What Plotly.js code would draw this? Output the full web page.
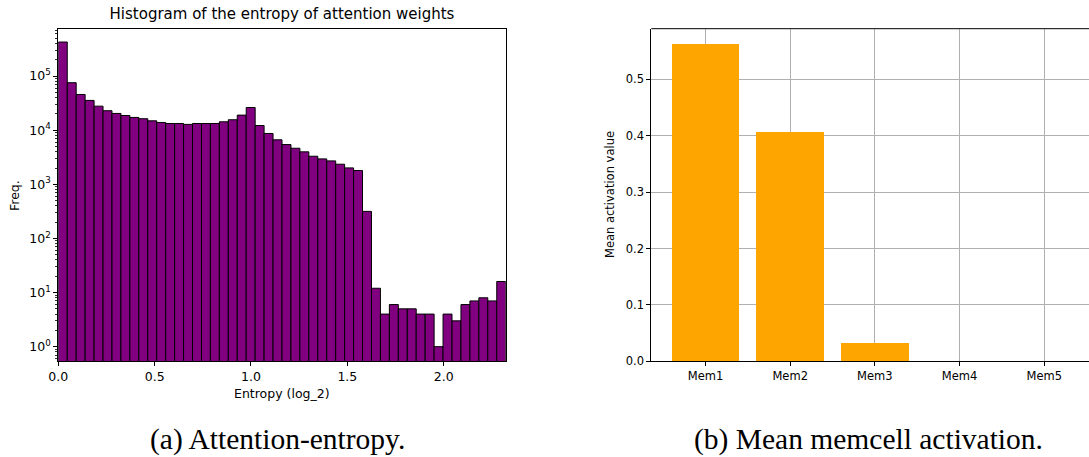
<!DOCTYPE html>
<html>
<head>
<meta charset="utf-8">
<script src="https://cdn.plot.ly/plotly-3.0.1.min.js"></script>
<style>
  html, body { margin: 0; padding: 0; background: #fff; overflow: hidden; }
  #chart { width: 1089px; height: 457px; }
</style>
</head>
<body>
<div id="chart"></div>
<script>
// ---- Data ----
const entropyMax = 2.3219;          // log2(5): upper edge of the histogram range
const entropyCounts = [
  426000, 75500, 45700, 35500, 27800, 22900, 20400, 18700, 17200, 16300,
  14900, 13900, 13300, 13300, 12800, 13300, 13300, 13300, 14300, 15600,
  19000, 26300, 12200, 8700, 6640, 5430, 4640, 3980, 3300, 2950,
  2710, 2350, 2010, 1800, 316, 12, 4, 6, 5, 5,
  4, 4, 1, 4, 3, 6, 7, 8, 7, 16
];
const entropyTicks = [0.0, 0.5, 1.0, 1.5, 2.0];
const freqTicks = [1, 10, 100, 1000, 10000, 100000];
const freqTickText = ['10<sup>0</sup>', '10<sup>1</sup>', '10<sup>2</sup>', '10<sup>3</sup>', '10<sup>4</sup>', '10<sup>5</sup>'];

const memCells = ['Mem1', 'Mem2', 'Mem3', 'Mem4', 'Mem5'];
const memActivation = [0.563, 0.407, 0.032, 0.0, 0.0];
const activationTicks = [0.0, 0.1, 0.2, 0.3, 0.4, 0.5];

// ---- Derived bin geometry ----
const nBins = entropyCounts.length;
const binWidth = entropyMax / nBins;
const binCenters = entropyCounts.map((_, i) => (i + 0.5) * binWidth);

// minor log ticks (2..9 per decade)
const minorVals = [];
for (let d = -1; d <= 5; d++) for (let k = 2; k <= 9; k++) minorVals.push(k * Math.pow(10, d));

const W = 1089, H = 457;
const px = v => v / W;
const py = v => 1 - v / H;

const FONT = 'DejaVu Sans, sans-serif';
const SERIF = 'Liberation Serif, Times New Roman, serif';

const traces = [
  {
    type: 'bar', x: binCenters, y: entropyCounts, width: binWidth,
    marker: { color: '#800080', line: { color: '#000000', width: 1 } },
    xaxis: 'x', yaxis: 'y', hoverinfo: 'x+y', showlegend: false
  },
  {
    type: 'bar', x: memCells, y: memActivation, width: 0.8,
    marker: { color: '#FFA500', line: { width: 0 } },
    xaxis: 'x2', yaxis: 'y2', showlegend: false
  }
];

const layout = {
  width: W, height: H,
  margin: { l: 0, r: 0, t: 0, b: 0 },
  paper_bgcolor: '#ffffff', plot_bgcolor: '#ffffff',
  font: { family: FONT, color: '#000000', size: 12 },
  bargap: 0,
  title: {
    text: 'Histogram of the entropy of attention weights',
    font: { family: FONT, size: 15, color: '#000000' },
    x: px(282), xanchor: 'center', xref: 'paper',
    y: py(14), yanchor: 'middle', yref: 'paper'
  },
  xaxis: {
    domain: [px(58.3), px(505.7)], anchor: 'y',
    range: [0, entropyMax],
    tickmode: 'array', tickvals: entropyTicks, tickformat: '.1f',
    ticks: 'outside', ticklen: 4, tickwidth: 1, tickcolor: '#000',
    showline: true, linecolor: '#000', linewidth: 1, mirror: true,
    showgrid: false, zeroline: false,
    tickfont: { family: FONT, size: 12.5, color: '#000' }
  },
  yaxis: {
    domain: [1 - 361 / H, 1 - 29 / H], anchor: 'x',
    type: 'log', range: [-0.265, 5.87],
    tickmode: 'array', tickvals: freqTicks, ticktext: freqTickText,
    ticks: 'outside', ticklen: 4, tickwidth: 1, tickcolor: '#000',
    minor: { tickmode: 'array', tickvals: minorVals, ticks: 'outside', ticklen: 2.5, tickwidth: 0.8, tickcolor: '#000', showgrid: false },
    showline: true, linecolor: '#000', linewidth: 1, mirror: true,
    showgrid: false, zeroline: false,
    tickfont: { family: FONT, size: 12.5, color: '#000' }
  },
  xaxis2: {
    domain: [px(651.3), 1], anchor: 'y2',
    type: 'category', range: [-0.64, 4.528],
    ticks: 'outside', ticklen: 4, tickwidth: 1, tickcolor: '#000',
    showline: true, linecolor: '#000', linewidth: 1,
    showgrid: true, gridcolor: '#b0b0b0', gridwidth: 1, zeroline: false,
    tickfont: { family: FONT, size: 11.5, color: '#000' }
  },
  yaxis2: {
    domain: [1 - 361.3 / H, 1 - 28.7 / H], anchor: 'x2',
    range: [0, 0.5897],
    tickmode: 'array', tickvals: activationTicks, tickformat: '.1f',
    ticks: 'outside', ticklen: 4, tickwidth: 1, tickcolor: '#000',
    showline: true, linecolor: '#000', linewidth: 1,
    showgrid: true, gridcolor: '#b0b0b0', gridwidth: 1, zeroline: false,
    tickfont: { family: FONT, size: 11.5, color: '#000' }
  },
  shapes: [
    { type: 'line', xref: 'x2 domain', yref: 'y2 domain', x0: 0, x1: 1, y0: 1, y1: 1,
      line: { color: '#000', width: 1 }, layer: 'above' }
  ],
  annotations: [
    { text: 'Freq.', x: px(15), y: py(196), xref: 'paper', yref: 'paper', showarrow: false,
      textangle: -90, xanchor: 'center', yanchor: 'middle', font: { family: FONT, size: 12.5, color: '#000' } },
    { text: 'Entropy (log_2)', x: px(282), y: py(393), xref: 'paper', yref: 'paper', showarrow: false,
      xanchor: 'center', yanchor: 'middle', font: { family: FONT, size: 12.5, color: '#000' } },
    { text: 'Mean activation value', x: px(610), y: py(195), xref: 'paper', yref: 'paper', showarrow: false,
      textangle: -90, xanchor: 'center', yanchor: 'middle', font: { family: FONT, size: 11.5, color: '#000' } },
    { text: '(a) Attention-entropy.', x: px(277), y: py(439), xref: 'paper', yref: 'paper', showarrow: false,
      xanchor: 'center', yanchor: 'middle', font: { family: SERIF, size: 29.5, color: '#000' } },
    { text: '(b) Mean memcell activation.', x: px(868), y: py(439), xref: 'paper', yref: 'paper', showarrow: false,
      xanchor: 'center', yanchor: 'middle', font: { family: SERIF, size: 29.5, color: '#000' } }
  ]
};

Plotly.newPlot('chart', traces, layout, { staticPlot: true, displayModeBar: false });
</script>
</body>
</html>
